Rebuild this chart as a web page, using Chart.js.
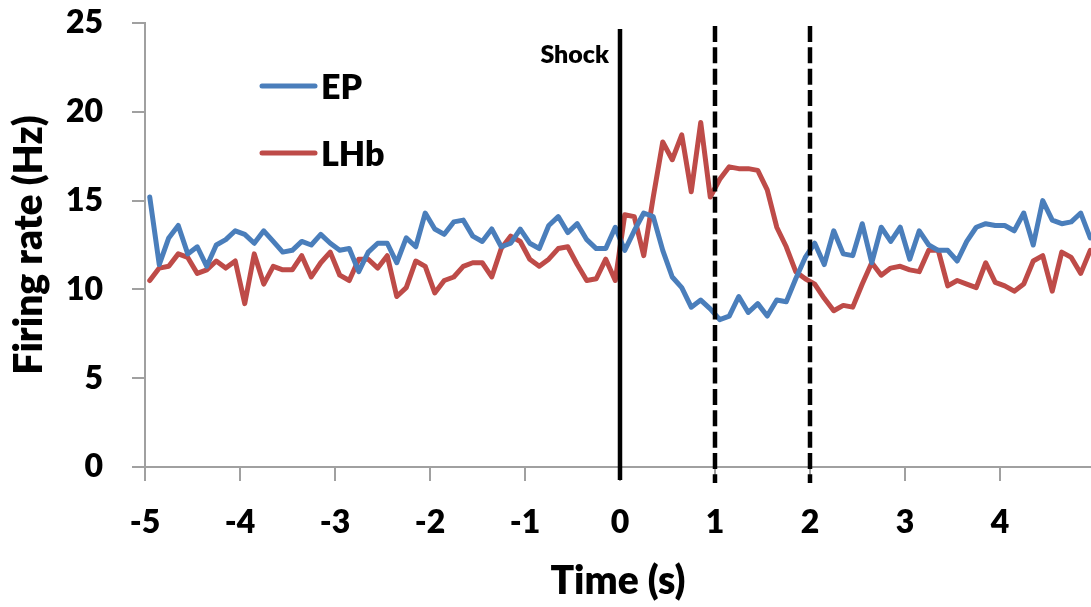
<!DOCTYPE html>
<html>
<head>
<meta charset="utf-8">
<script src="https://cdn.jsdelivr.net/npm/chart.js@4.4.1/dist/chart.umd.min.js"></script>
<style>
html,body{margin:0;padding:0;background:#fff;}
#wrap{width:1091px;height:607px;position:relative;}
</style>
</head>
<body>
<div id="wrap"><canvas id="c" width="1091" height="607"></canvas></div>
<script>
// ---- data ----
const times = [
 -4.95,-4.85,-4.75,-4.65,-4.55,-4.45,-4.35,-4.25,-4.15,-4.05,
 -3.95,-3.85,-3.75,-3.65,-3.55,-3.45,-3.35,-3.25,-3.15,-3.05,
 -2.95,-2.85,-2.75,-2.65,-2.55,-2.45,-2.35,-2.25,-2.15,-2.05,
 -1.95,-1.85,-1.75,-1.65,-1.55,-1.45,-1.35,-1.25,-1.15,-1.05,
 -0.95,-0.85,-0.75,-0.65,-0.55,-0.45,-0.35,-0.25,-0.15,-0.05,
 0.05,0.15,0.25,0.35,0.45,0.55,0.65,0.75,0.85,0.95,
 1.05,1.15,1.25,1.35,1.45,1.55,1.65,1.75,1.85,1.95,
 2.05,2.15,2.25,2.35,2.45,2.55,2.65,2.75,2.85,2.95,
 3.05,3.15,3.25,3.35,3.45,3.55,3.65,3.75,3.85,3.95,
 4.05,4.15,4.25,4.35,4.45,4.55,4.65,4.75,4.85,4.95
];
const epRates = [
 15.2,11.4,12.9,13.6,12.0,12.4,11.3,12.5,12.8,13.3,
 13.1,12.6,13.3,12.7,12.1,12.2,12.7,12.5,13.1,12.6,
 12.2,12.3,11.0,12.1,12.6,12.6,11.5,12.9,12.4,14.3,
 13.4,13.1,13.8,13.9,13.0,12.7,13.4,12.4,12.6,13.4,
 12.6,12.3,13.6,14.1,13.2,13.7,12.8,12.3,12.3,13.5,
 12.2,13.3,14.3,14.1,12.2,10.7,10.1,9.0,9.4,8.9,
 8.3,8.5,9.6,8.7,9.2,8.5,9.4,9.3,10.6,11.8,
 12.6,11.4,13.3,12.0,11.9,13.7,11.5,13.5,12.7,13.5,
 11.7,13.3,12.5,12.2,12.2,11.6,12.7,13.5,13.7,13.6,
 13.6,13.3,14.3,12.5,15.0,13.9,13.7,13.8,14.3,12.9
];
const lhbRates = [
 10.5,11.2,11.3,12.0,11.8,10.9,11.1,11.6,11.2,11.6,
 9.2,12.0,10.3,11.3,11.1,11.1,11.9,10.7,11.5,12.1,
 10.8,10.5,11.7,11.7,11.2,11.9,9.6,10.1,11.6,11.3,
 9.8,10.5,10.7,11.3,11.5,11.5,10.7,12.3,13.0,12.7,
 11.7,11.3,11.7,12.3,12.4,11.4,10.5,10.6,11.7,10.5,
 14.2,14.1,11.9,15.2,18.3,17.3,18.7,15.5,19.4,15.2,
 16.2,16.9,16.8,16.8,16.7,15.6,13.5,12.4,11.0,10.6,
 10.3,9.5,8.8,9.1,9.0,10.3,11.5,10.8,11.2,11.3,
 11.1,11.0,12.2,12.2,10.2,10.5,10.3,10.1,11.5,10.4,
 10.2,9.9,10.3,11.6,11.9,9.9,12.1,11.8,10.9,12.2
];
const seriesNames = ['EP', 'LHb'];
const xTickValues = [-5,-4,-3,-2,-1,0,1,2,3,4];
const yTickValues = [0,5,10,15,20,25];
const markerTimes = [0, 1, 2];
const markerLabel = 'Shock';
const xTitle = 'Time (s)';
const yTitle = 'Firing rate (Hz)';

// ---- styles ----
const FONT = 'Lato';
const W = 800;
const colors = ['#4A7EBB', '#BE4B48'];
const axisGray = '#a0a0a0';

const overlayPlugin = {
  id: 'overlays',
  afterDatasetsDraw(chart) {
    const ctx = chart.ctx;
    const xs = chart.scales.x;
    const area = chart.chartArea;
    ctx.save();
    markerTimes.forEach((t, k) => {
      const px = xs.getPixelForValue(t);
      ctx.beginPath();
      ctx.strokeStyle = '#000';
      ctx.lineWidth = 4.5;
      ctx.lineCap = 'butt';
      if (k === 0) {
        ctx.setLineDash([]);
        ctx.moveTo(px, area.top + 6);
        ctx.lineTo(px, area.bottom + 13);
      } else {
        ctx.setLineDash([16, 5.35]);
        ctx.moveTo(px, area.top + 3);
        ctx.lineTo(px, area.bottom + 16);
      }
      ctx.stroke();
    });
    ctx.setLineDash([]);
    ctx.fillStyle = '#000';
    ctx.font = W + ' 25px ' + FONT;
    ctx.textAlign = 'right';
    ctx.textBaseline = 'alphabetic';
    ctx.fillText(markerLabel, xs.getPixelForValue(markerTimes[0]) - 11, 63);
    const lx0 = 262, lx1 = 315, ly = [86, 153];
    chart.data.datasets.forEach((ds, i) => {
      ctx.beginPath();
      ctx.strokeStyle = ds.borderColor;
      ctx.lineWidth = 5;
      ctx.lineCap = 'round';
      ctx.moveTo(lx0, ly[i]);
      ctx.lineTo(lx1, ly[i]);
      ctx.stroke();
      ctx.fillStyle = '#000';
      ctx.font = W + ' 34px ' + FONT;
      ctx.textAlign = 'left';
      ctx.textBaseline = 'alphabetic';
      ctx.fillText(ds.label, 321, ly[i] + 13);
    });
    ctx.restore();
  }
};

new Chart(document.getElementById('c'), {
  type: 'line',
  data: {
    datasets: [
      { label: seriesNames[0], data: times.map((t, i) => ({x: t, y: epRates[i]})),
        borderColor: colors[0], backgroundColor: colors[0] },
      { label: seriesNames[1], data: times.map((t, i) => ({x: t, y: lhbRates[i]})),
        borderColor: colors[1], backgroundColor: colors[1] }
    ]
  },
  options: {
    responsive: false,
    devicePixelRatio: 1,
    animation: false,
    events: [],
    layout: { padding: { top: 23, right: 0, left: 0, bottom: 0 } },
    elements: {
      point: { radius: 0 },
      line: { borderWidth: 5, tension: 0, borderJoinStyle: 'round', borderCapStyle: 'round', fill: false }
    },
    plugins: { legend: { display: false }, tooltip: { enabled: false } },
    scales: {
      x: {
        type: 'linear', position: 'bottom', min: -5, max: 4.958,
        afterBuildTicks: s => { s.ticks = xTickValues.map(v => ({value: v})); },
        afterFit: s => { s.height = 140; s.paddingLeft = 0; s.paddingRight = 0; },
        grid: { drawOnChartArea: false, drawTicks: true, tickLength: 14, color: axisGray, lineWidth: 2 },
        border: { display: true, color: axisGray, width: 2 },
        ticks: { padding: 22, color: '#000', maxRotation: 0, autoSkip: false, includeBounds: false,
          font: { family: FONT, weight: W, size: 32 }, callback: v => String(v) },
        title: { display: true, text: xTitle, color: '#000', padding: { top: 0, bottom: 2 },
          font: { family: FONT, weight: W, size: 39 } }
      },
      y: {
        type: 'linear', position: 'left', min: 0, max: 25,
        afterBuildTicks: s => { s.ticks = yTickValues.map(v => ({value: v})); },
        afterFit: s => { s.width = 145; s.paddingTop = 0; s.paddingBottom = 0; },
        grid: { drawOnChartArea: false, drawTicks: true, tickLength: 13, color: axisGray, lineWidth: 2 },
        border: { display: true, color: axisGray, width: 2 },
        ticks: { padding: 29, color: '#000', autoSkip: false,
          font: { family: FONT, weight: W, size: 32 }, callback: v => String(v) },
        title: { display: true, text: yTitle, color: '#000', padding: { top: 6, bottom: 0 },
          font: { family: FONT, weight: W, size: 39 } }
      }
    }
  },
  plugins: [overlayPlugin]
});
</script>
</body>
</html>
